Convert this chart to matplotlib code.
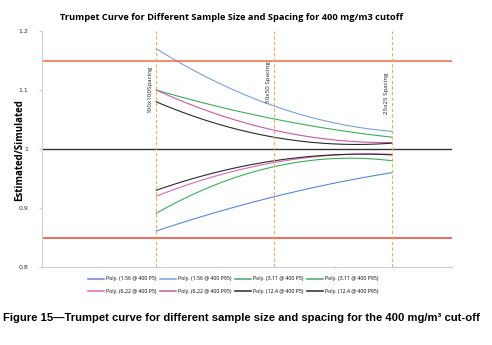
import numpy as np
from matplotlib import pyplot as plt

# x position of the three drill spacings on the (unlabelled) x axis
spacing_x = [1.95, 3.96, 5.98]
spacing_names = ['100x100Spacing', '50x50 Spacing', '25x25 Spacing']

# estimated/simulated ratio at each spacing
p5_1_56 = [0.861, 0.919, 0.960]
p95_1_56 = [1.170, 1.073, 1.030]
p5_3_11 = [0.891, 0.970, 0.980]
p95_3_11 = [1.100, 1.051, 1.020]
p5_6_22 = [0.920, 0.977, 0.991]
p95_6_22 = [1.100, 1.032, 1.011]
p5_12_4 = [0.930, 0.980, 0.990]
p95_12_4 = [1.080, 1.020, 1.010]

series = [
    ('Poly. (1.56 @ 400 P5)', p5_1_56, '#5b87d4'),
    ('Poly. (1.56 @ 400 P95)', p95_1_56, '#7b9fdf'),
    ('Poly. (3.11 @ 400 P5)', p5_3_11, '#3cae5a'),
    ('Poly. (3.11 @ 400 P95)', p95_3_11, '#3cae5a'),
    ('Poly. (6.22 @ 400 P5)', p5_6_22, '#d46ab8'),
    ('Poly. (6.22 @ 400 P95)', p95_6_22, '#c75aa8'),
    ('Poly. (12.4 @ 400 P5)', p5_12_4, '#2a2a2a'),
    ('Poly. (12.4 @ 400 P95)', p95_12_4, '#2a2a2a'),
]

limits = [1.15, 0.85]

fig = plt.figure(figsize=(4.92, 3.45), dpi=100)
ax = fig.add_axes([42 / 492, 1 - 267 / 345, 410 / 492, 236 / 345])

# 2nd order poly trendline through the three points, like Excel does
xs = np.linspace(spacing_x[0], spacing_x[-1], 100)
handles = []
for label, vals, col in series:
    coef = np.polyfit(spacing_x, vals, 2)
    h, = ax.plot(xs, np.polyval(coef, xs), color=col, lw=0.8, label=label)
    handles.append(h)

ax.axhline(limits[0], color='#f26a45', lw=1.1)
ax.axhline(limits[1], color='#e8443a', lw=1.1)
ax.axhline(1.0, color='#333333', lw=1.0)

for x in spacing_x:
    ax.axvline(x, color='#f5a860', lw=0.8, ls=(0, (3, 2)))
for x, name, y in zip(spacing_x, spacing_names, [1.102, 1.114, 1.095]):
    ax.text(x - 0.1, y, name, rotation=90, ha='center', va='center', fontsize=4.5,
            family='Open Sans', color='#222222')

ax.set_xlim(0, 7)
ax.set_ylim(0.8, 1.2)
ax.set_xticks(range(8))
ax.set_xticklabels([])
ax.set_yticks([0.8, 0.9, 1.0, 1.1, 1.2])
ax.set_yticklabels(['0.8', '0.9', '1', '1.1', '1.2'])
ax.tick_params(axis='y', labelsize=4.5, length=2, color='#d0d0d0', labelcolor='#333333', pad=8)
ax.tick_params(axis='x', length=2, color='#d0d0d0', direction='inout')
for s in ['top', 'right']:
    ax.spines[s].set_visible(False)
for s in ['left', 'bottom']:
    ax.spines[s].set_color('#d0d0d0')
    ax.spines[s].set_linewidth(0.8)

fig.text(20 / 492, 1 - 150 / 345, 'Estimated/Simulated', rotation=90, ha='center', va='center',
         fontsize=7, fontweight='bold', family='Open Sans')

fig.text(0.471, 1 - 18 / 345, 'Trumpet Curve for Different Sample Size and Spacing for 400 mg/m3 cutoff',
         ha='center', va='center', fontsize=6.65, fontweight='bold', family='Open Sans')

# legend is filled row by row in the original, matplotlib fills by column
order = [0, 4, 1, 5, 2, 6, 3, 7]
leg = ax.legend([handles[i] for i in order], [series[i][0] for i in order],
                loc='upper center', bbox_to_anchor=(0.466, -0.02), ncol=4, frameon=False,
                handlelength=3.0, handletextpad=0.4, columnspacing=0.7, labelspacing=1.4,
                prop={'family': 'Open Sans', 'size': 3.8})
for line in leg.get_lines():
    line.set_linewidth(1.1)

fig.text(0.006, 1 - 318 / 345,
         'Figure 15\u2014Trumpet curve for different sample size and spacing for the 400 mg/m\u00b3 cut-off',
         ha='left', va='center', fontsize=8.1, fontweight='bold', family='Liberation Sans')

plt.savefig('out.png', dpi=100)
